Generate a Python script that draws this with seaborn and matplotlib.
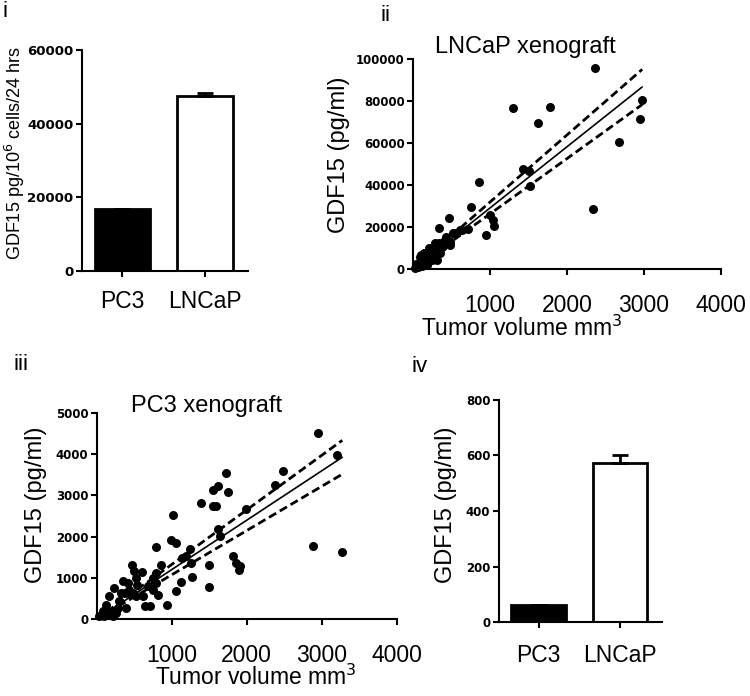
import numpy as np
import pandas as pd
import seaborn as sns
import matplotlib.pyplot as plt

# panel i - GDF15 secretion in vitro
cell_lines = ['PC3', 'LNCaP']
invitro_mean = [16750, 47600]
invitro_err = [0, 650]

# panel iv - serum GDF15
serum_mean = [60, 572]
serum_err = [0, 28]

# panel ii - LNCaP xenograft (tumor volume mm3, GDF15 pg/ml)
lncap_vol = [2362, 1302, 1776, 1625, 2978, 2944, 2672, 2341, 1422, 1509, 1517, 853,
             746, 1000, 1034, 1056, 948, 466, 336, 711, 638, 517, 431, 280, 388, 474,
             610, 524, 416, 480, 307, 221, 177, 113, 91, 48, 134, 242, 286, 351, 372,
             307, 156, 26, 69, 199, 329, 100, 150, 60, 200, 250, 120, 90, 40, 180]
lncap_gdf = [96000, 76500, 77100, 69500, 80600, 71600, 60600, 28600, 47600, 46500, 39700, 41400,
             29500, 25900, 23500, 20300, 16300, 24300, 19500, 19000, 18400, 17100, 15200, 12400, 11100, 12700,
             18600, 17000, 13800, 11400, 9000, 8300, 6700, 5100, 3500, 1100, 7500, 4300, 5900, 7500, 10700,
             4300, 2700, 300, 1900, 9800, 12200, 6500, 4000, 800, 6000, 7000, 1500, 5500, 2500, 2000]

# panel iii - PC3 xenograft
pc3_vol = [2953, 3198, 2477, 2374, 1728, 1751, 1550, 1617, 1550, 1586, 1394, 1016, 1996,
           993, 1051, 793, 1617, 1639, 1238, 1194, 1261, 1817, 1862, 1906, 1897, 1497, 1140,
           1274, 1497, 1118, 1060, 935, 2886, 3274, 851, 793, 748, 815, 682, 704, 637, 615,
           472, 490, 606, 526, 535, 347, 236, 169, 370, 436, 481, 392, 258, 125, 169, 80,
           36, 102, 214, 303, 281, 325, 414, 526, 748, 793]
pc3_gdf = [4515, 3989, 3584, 3252, 3544, 3083, 3139, 3220, 2751, 2751, 2816, 2524, 2670,
           1926, 1845, 1748, 2193, 2006, 1699, 1521, 1359, 1521, 1359, 1278, 1181, 1319, 1481,
           1019, 777, 890, 672, 348, 1764, 1618, 1303, 874, 712, 591, 793, 307, 324, 550,
           1319, 1157, 1133, 995, 833, 914, 752, 550, 631, 712, 631, 267, 146, 348, 146, 186,
           81, 65, 65, 429, 267, 631, 874, 550, 995, 1117]

sns.set_theme(style='ticks')
plt.rcParams['font.family'] = ['Liberation Sans', 'DejaVu Sans']
plt.rcParams['text.color'] = 'black'
plt.rcParams['axes.labelcolor'] = 'black'
plt.rcParams['axes.edgecolor'] = 'black'
plt.rcParams['xtick.color'] = 'black'
plt.rcParams['ytick.color'] = 'black'
plt.rcParams['axes.linewidth'] = 1.5
plt.rcParams['xtick.major.width'] = 1.5
plt.rcParams['ytick.major.width'] = 1.5
plt.rcParams['xtick.major.size'] = 4
plt.rcParams['ytick.major.size'] = 4

fig = plt.figure(figsize=(7.5, 6.96), dpi=100)
ax1 = fig.add_axes([0.109, 0.611, 0.222, 0.317])
ax2 = fig.add_axes([0.551, 0.6135, 0.410, 0.3015])
ax3 = fig.add_axes([0.129, 0.1106, 0.400, 0.296])
ax4 = fig.add_axes([0.665, 0.1063, 0.218, 0.319])


def bar_panel(ax, means, errs, ylim, yticks, ylabel, ylab_xy, ylab_size, tick_size, pad):
    df = pd.DataFrame({'line': cell_lines, 'value': means})
    sns.barplot(data=df, x='line', y='value', hue='line', palette=['black', 'white'],
                width=0.67, edgecolor='black', linewidth=2, legend=False, ax=ax)
    ax.errorbar([0, 1], means, yerr=[[0, 0], errs], fmt='none', ecolor='black',
                elinewidth=2, capsize=6, capthick=2)
    ax.set_xlim(-0.49, 1.52)
    ax.set_ylim(*ylim)
    ax.set_yticks(yticks)
    ax.set_xlabel('')
    ax.set_ylabel(ylabel, fontsize=ylab_size)
    ax.yaxis.set_label_coords(*ylab_xy)
    ax.tick_params(axis='x', labelsize=16.5, pad=pad)
    ax.tick_params(axis='y', pad=2)
    for lab in ax.get_yticklabels():
        lab.set_family('DejaVu Sans')
        lab.set_fontweight('bold')
        lab.set_fontsize(tick_size)
    sns.despine(ax=ax)


def scatter_panel(ax, x, y, ylim, yticks, title, title_xy, xlab_xy, ylab_xy):
    x = np.array(x, dtype=float)
    y = np.array(y, dtype=float)
    sns.scatterplot(x=x, y=y, ax=ax, s=42, color='black', linewidth=0, clip_on=False, zorder=3)
    # linear fit through the origin with its 95% confidence band
    slope = np.sum(x * y) / np.sum(x * x)
    n = len(x)
    s = np.sqrt(np.sum((y - slope * x) ** 2) / (n - 1))
    xs = np.linspace(0, x.max(), 100)
    se = s * xs / np.sqrt(np.sum(x * x))
    yfit = slope * xs
    ax.plot(xs, yfit, color='black', lw=1.2, zorder=4)
    ax.plot(xs, yfit + 1.99 * se, color='black', lw=2, ls=(0, (3, 1.5)), zorder=4)
    ax.plot(xs, yfit - 1.99 * se, color='black', lw=2, ls=(0, (3, 1.5)), zorder=4)
    ax.set_xlim(0, 4000)
    ax.set_ylim(*ylim)
    ax.set_xticks([1000, 2000, 3000, 4000])
    ax.set_yticks(yticks)
    ax.set_xlabel('Tumor volume mm$^3$', fontsize=16.5)
    ax.xaxis.set_label_coords(*xlab_xy)
    ax.set_ylabel('GDF15 (pg/ml)', fontsize=17)
    ax.yaxis.set_label_coords(*ylab_xy)
    ax.text(title_xy[0], title_xy[1], title, transform=ax.transAxes,
            ha='center', va='center', fontsize=17)
    ax.tick_params(axis='x', labelsize=16.5, pad=14)
    ax.tick_params(axis='y', pad=2)
    for lab in ax.get_yticklabels():
        lab.set_family('DejaVu Sans')
        lab.set_fontweight('bold')
        lab.set_fontsize(8.5)
    sns.despine(ax=ax)


bar_panel(ax1, invitro_mean, invitro_err, (0, 60000), [0, 20000, 40000, 60000],
          'GDF15 pg/10$^6$ cells/24 hrs', (-0.33, 0.534), 13, 9.5, 10)
bar_panel(ax4, serum_mean, serum_err, (0, 800), [0, 200, 400, 600, 800],
          'GDF15 (pg/ml)', (-0.258, 0.527), 17, 8.5, 12)
scatter_panel(ax2, lncap_vol, lncap_gdf, (0, 100000), [0, 20000, 40000, 60000, 80000, 100000],
              'LNCaP xenograft', (0.364, 1.057), (0.354, -0.224), (-0.205, 0.543))
scatter_panel(ax3, pc3_vol, pc3_gdf, (0, 5000), [0, 1000, 2000, 3000, 4000, 5000],
              'PC3 xenograft', (0.367, 1.034), (0.53, -0.223), (-0.167, 0.553))

fig.text(0.004, 0.984, 'i', fontsize=16, va='center')
fig.text(0.507, 0.978, 'ii', fontsize=16, va='center')
fig.text(0.018, 0.476, 'iii', fontsize=16, va='center')
fig.text(0.549, 0.473, 'iv', fontsize=16, va='center')

fig.savefig('out.png', dpi=100)
